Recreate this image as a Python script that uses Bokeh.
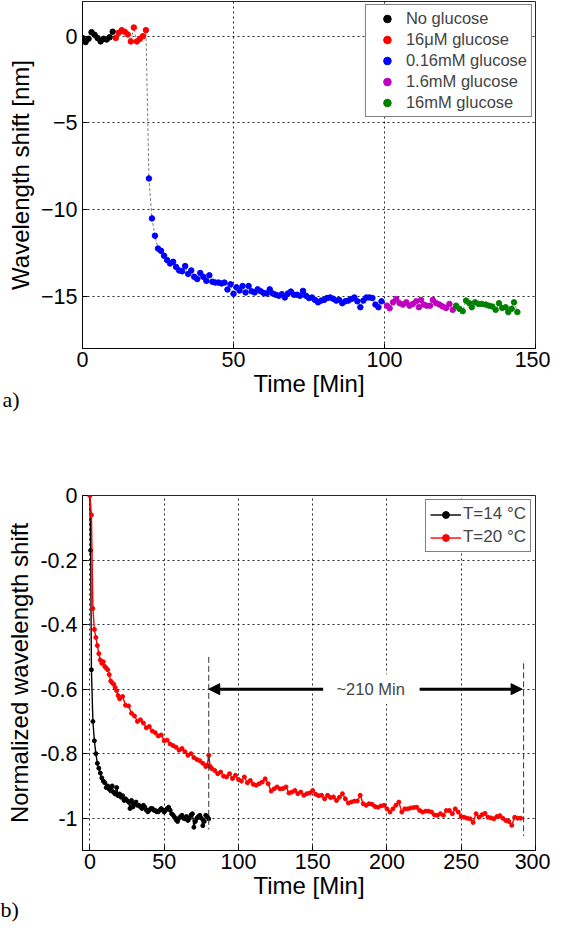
from bokeh.plotting import figure
from bokeh.layouts import column
from bokeh.models import FixedTicker, Label, Arrow, NormalHead, Title, BoxAnnotation
from bokeh.embed import file_html
from bokeh.resources import INLINE

FONT = "Liberation Sans"

# ---------------- Panel a) data ----------------
t_none = [0, 1, 2, 3, 4, 5, 6, 7, 8, 9, 10]
v_none = [-0.11, -0.34, -0.15, 0.23, 0.08, -0.11, -0.30, -0.15, -0.19, -0.06, 0.26]

t_16uM = [11, 12, 13, 14, 15, 16, 17, 18, 19, 20, 21]
v_16uM = [-0.10, 0.20, 0.35, 0.25, 0.10, -0.30, 0.50, -0.30, -0.15, 0.00, 0.35]

t_016mM = list(range(22, 100))
v_016mM = [-8.2, -10.5, -11.5, -12.24, -12.37, -12.65, -12.9, -13.1, -13.0, -13.3,
           -13.5, -13.55, -13.25, -13.7, -13.5, -13.87, -14.0, -13.65, -13.87, -14.1,
           -13.78, -14.15, -14.2, -14.2, -14.25, -14.2, -14.6, -14.3, -14.85, -14.47,
           -14.66, -14.4, -14.77, -14.4, -14.7, -14.77, -14.59, -14.7, -14.8,
           -14.83, -14.59, -14.83, -14.9, -14.96, -14.87, -15.06, -14.83, -14.72, -14.9,
           -14.9, -14.96, -14.68, -14.96, -15.09, -15.06, -15.2, -15.34, -15.24, -15.2,
           -15.09, -15.06, -15.13, -15.24, -15.2, -15.39, -15.28, -15.24, -15.15, -15.06,
           -15.28, -15.62, -15.24, -15.06, -15.06, -15.09, -15.47, -15.62, -15.28]

t_16mM_a = [100.8, 101.7, 102.8, 103.9, 105.0, 106.1, 107.2, 108.3, 109.4, 110.5, 111.4,
            112.1, 113.0, 114.0, 115.1, 116.0, 117.1, 118.2, 119.3, 120.4, 121.5, 122.6]
v_16mM_a = [-15.53, -15.68, -15.34, -15.15, -15.39, -15.47, -15.34, -15.53, -15.43, -15.28, -15.62,
            -15.2, -15.47, -15.53, -15.53, -15.2, -15.39, -15.47, -15.58, -15.66, -15.43, -15.77]

t_16mM = [123.7, 124.8, 125.9, 127.0, 128.1, 128.9, 130.0, 131.1, 132.2, 133.5,
          134.6, 135.7, 136.8, 137.9, 139.0, 140.1, 141.0, 142.1, 142.9, 144.0]
v_16mM = [-15.53, -15.71, -15.85, -15.24, -15.39, -15.62, -15.34, -15.43, -15.43, -15.47,
          -15.53, -15.58, -15.77, -15.39, -15.66, -15.62, -15.9, -15.71, -15.34, -15.9]

series_a = [
    ("No glucose", t_none, v_none, "#000000"),
    ("16\u03bcM glucose", t_16uM, v_16uM, "#FF0000"),
    ("0.16mM glucose", t_016mM, v_016mM, "#0000FF"),
    ("1.6mM glucose", t_16mM_a, v_16mM_a, "#BF00BF"),
    ("16mM glucose", t_16mM, v_16mM, "#008000"),
]
a_xticks = [0, 50, 100, 150]
a_yticks = [-15, -10, -5, 0]

# ---------------- Panel b) data ----------------
t_14 = [0, 0.5, 1, 2, 3, 4, 5, 6, 7, 8, 9, 10, 11, 12, 13, 14, 15, 16, 17, 18, 19, 20,
        21, 22, 23, 24, 25, 26, 27, 28, 29, 30, 31, 32, 33, 34, 35, 36, 37, 38, 39, 40,
        41, 42, 43, 44, 45, 46, 47, 48, 49, 50, 51, 52, 53, 54, 55, 56, 57, 58, 59, 60,
        61, 62, 63, 64, 65, 66, 67, 68, 69, 70, 71, 72, 73, 74, 75, 76, 77, 78, 79, 80]
v_14 = [0.0, -0.17, -0.54, -0.70, -0.76, -0.80, -0.83, -0.845, -0.86, -0.875, -0.885,
        -0.89, -0.905, -0.90, -0.91, -0.915, -0.90, -0.92, -0.925, -0.905, -0.93, -0.925,
        -0.935, -0.93, -0.945, -0.94, -0.945, -0.95, -0.97, -0.945, -0.965, -0.955,
        -0.95, -0.96, -0.96, -0.965, -0.97, -0.96, -0.966, -0.975, -0.98, -0.975,
        -0.97, -0.97, -0.975, -0.976, -0.98, -0.98, -0.975, -0.97, -0.975, -0.981,
        -0.975, -0.97, -0.966, -0.975, -0.986, -0.99, -0.997, -1.005, -1.01, -1.0,
        -0.995, -0.991, -1.0, -1.002, -0.995, -1.007, -1.0, -0.99, -0.986, -1.028,
        -1.01, -1.0, -0.995, -0.991, -1.0, -1.023, -1.01, -0.991, -0.995, -1.002]

t_20 = [0, 1, 2, 3, 4, 5, 6, 7, 8, 9, 10, 11, 12, 13, 14, 15, 16, 17, 18, 19, 20,
        22, 24, 26, 28, 30, 32, 34, 36, 38, 40, 42, 44, 46, 48, 50, 52, 54, 56, 58, 60,
        62, 64, 66, 68, 70, 72, 74, 76, 78, 79, 80, 81, 82, 84, 86, 88, 90, 92, 94, 96,
        98, 100, 102, 104, 106, 108, 110, 112, 114, 116, 118, 120, 122, 124, 126, 128,
        130, 132, 134, 136, 138, 140, 142, 144, 146, 148, 150, 152, 154, 156, 158, 160,
        162, 164, 166, 168, 170, 172, 174, 176, 178, 180, 182, 184, 186, 188, 190, 192,
        194, 196, 198, 200, 202, 204, 206, 208, 210, 212, 214, 216, 218, 220, 222, 224,
        226, 228, 230, 232, 234, 236, 238, 240, 242, 244, 246, 248, 250, 252, 254, 256,
        258, 260, 262, 264, 266, 268, 270, 272, 274, 276, 278, 280, 282, 284, 286, 288, 290]
v_20 = [0.0, -0.06, -0.35, -0.415, -0.44, -0.465, -0.49, -0.51, -0.52, -0.515, -0.53,
        -0.535, -0.54, -0.555, -0.575, -0.58, -0.585, -0.595, -0.605, -0.62, -0.63,
        -0.623, -0.65, -0.652, -0.675, -0.683, -0.70, -0.695, -0.705, -0.72, -0.716,
        -0.73, -0.735, -0.745, -0.742, -0.76, -0.758, -0.77, -0.775, -0.78, -0.789,
        -0.784, -0.794, -0.805, -0.80, -0.812, -0.818, -0.822, -0.83, -0.84, -0.835,
        -0.805, -0.84, -0.846, -0.852, -0.862, -0.857, -0.87, -0.872, -0.862, -0.877,
        -0.867, -0.88, -0.885, -0.872, -0.89, -0.883, -0.895, -0.898, -0.893, -0.888,
        -0.878, -0.893, -0.916, -0.909, -0.903, -0.909, -0.908, -0.903, -0.922, -0.919,
        -0.914, -0.924, -0.919, -0.929, -0.924, -0.922, -0.914, -0.926, -0.93, -0.929,
        -0.94, -0.929, -0.936, -0.934, -0.945, -0.935, -0.924, -0.94, -0.953, -0.95,
        -0.947, -0.947, -0.929, -0.955, -0.96, -0.955, -0.957, -0.964, -0.966, -0.962,
        -0.96, -0.971, -0.981, -0.971, -0.96, -0.95, -0.981, -0.971, -0.971, -0.968,
        -0.967, -0.966, -0.976, -0.981, -0.978, -0.978, -0.981, -0.99, -0.991, -0.986,
        -0.991, -0.976, -0.976, -0.986, -0.971, -0.981, -0.995, -0.997, -1.0, -1.002,
        -1.013, -0.986, -0.997, -0.989, -0.985, -0.997, -0.999, -1.002, -0.995, -0.992,
        -1.0, -1.007, -1.01, -1.022, -0.997, -1.0, -1.0]

b_xticks = [0, 50, 100, 150, 200, 250, 300]
b_yticks = [-1, -0.8, -0.6, -0.4, -0.2, 0]
b_ylabels = {-1: "-1", -0.8: "-0.8", -0.6: "-0.6", -0.4: "-0.4", -0.2: "-0.2", 0: "0"}

# annotation: interval marked on panel b
span_start, span_end = 80, 291
span_y = -0.6
span_text = "~210 Min"
vline_start = (80, -0.5, -1.035)
vline_end = (292, -0.52, -1.055)
arrow_left_from = 157
arrow_right_from = 222
span_text_x = 189
span_box_half = 0.046


def style(p, xticks, yticks):
    p.outline_line_color = "#000000"
    p.outline_line_width = 1
    p.outline_line_alpha = 0.85
    p.background_fill_color = "white"
    for ax in (p.xaxis, p.yaxis):
        ax.axis_line_color = "#000000"
        ax.axis_line_alpha = 0.85
        ax.major_tick_in = 5
        ax.major_tick_out = 0
        ax.minor_tick_in = 0
        ax.minor_tick_out = 0
        ax.major_label_text_font = FONT
        ax.major_label_text_font_size = "21.5px"
        ax.major_label_text_color = "black"
        ax.axis_label_text_font = FONT
        ax.axis_label_text_font_size = "24px"
        ax.axis_label_text_font_style = "normal"
        ax.axis_label_text_color = "black"
    p.xaxis.major_label_standoff = 3
    p.xaxis.axis_label_standoff = 0
    p.yaxis.major_label_standoff = 5
    p.yaxis.axis_label_standoff = 4
    p.xaxis.ticker = FixedTicker(ticks=xticks)
    p.yaxis.ticker = FixedTicker(ticks=yticks)
    for g in (p.xgrid, p.ygrid):
        g.grid_line_color = "#111111"
        g.grid_line_dash = "2 3"
        g.grid_line_width = 1
        g.grid_line_alpha = 0.9
    p.xgrid.ticker = FixedTicker(ticks=xticks)
    p.ygrid.ticker = FixedTicker(ticks=yticks)


def panel_tag(p, text, offset, standoff):
    t = Title(text=text, align="left", vertical_align="top", offset=offset,
              text_font="Liberation Serif", text_font_size="22px",
              text_font_style="normal", text_color="black")
    try:
        t.standoff = standoff
    except Exception:
        t.standoff = 0
    p.add_layout(t, "below")


# ---------------- Panel a) ----------------
p1 = figure(width=550, height=436, x_range=(0, 150), y_range=(-18, 2),
            output_backend="svg", toolbar_location=None,
            min_border_left=80, min_border_right=15, min_border_top=1, min_border_bottom=88,
            x_axis_label="Time [Min]", y_axis_label="Wavelength shift [nm]")
style(p1, a_xticks, a_yticks)

all_t = []
all_v = []
for _, ts, vs, _ in series_a:
    all_t += ts
    all_v += vs
p1.line(all_t, all_v, line_color="#808080", line_dash="3 2", line_width=1)
for name, ts, vs, col in series_a:
    p1.scatter(ts, vs, size=5.5, fill_color=col, line_color=col, legend_label=name)

lg = p1.legend[0]
lg.location = "top_right"
lg.margin = 3
lg.padding = 4
lg.spacing = 2
lg.glyph_width = 34
lg.glyph_height = 19
lg.label_height = 19
lg.label_standoff = 2
lg.label_text_font = FONT
lg.label_text_font_size = "16.5px"
lg.border_line_color = "black"
lg.border_line_width = 1
lg.background_fill_alpha = 1

panel_tag(p1, "a)", -80, -26)

# ---------------- Panel b) ----------------
p2 = figure(width=550, height=488, x_range=(-5, 300), y_range=(-1.1, 0),
            output_backend="svg", toolbar_location=None,
            min_border_left=82, min_border_right=13, min_border_top=59, min_border_bottom=74,
            x_axis_label="Time [Min]", y_axis_label="Normalized wavelength shift")
style(p2, b_xticks, b_yticks)
p2.yaxis.major_label_overrides = b_ylabels

p2.line(t_14, v_14, line_color="black", line_width=1.4, legend_label="T=14 \u00b0C")
p2.scatter(t_14, v_14, size=4, fill_color="black", line_color="black", legend_label="T=14 \u00b0C")
p2.line(t_20, v_20, line_color="red", line_width=1.4, legend_label="T=20 \u00b0C")
p2.scatter(t_20, v_20, size=4, fill_color="red", line_color="red", legend_label="T=20 \u00b0C")

lg2 = p2.legend[0]
lg2.location = "top_right"
lg2.margin = 4
lg2.padding = 4
lg2.spacing = 3
lg2.glyph_width = 31
lg2.glyph_height = 17
lg2.label_height = 17
lg2.label_standoff = 2
lg2.label_text_font = FONT
lg2.label_text_font_size = "17px"
lg2.border_line_color = "black"
lg2.border_line_width = 1
lg2.background_fill_alpha = 1

for (vx, y0, y1) in (vline_start, vline_end):
    p2.segment(x0=[vx], y0=[y0], x1=[vx], y1=[y1], line_color="#333333",
               line_dash="6 3", line_width=1)

p2.add_layout(BoxAnnotation(left=arrow_left_from, right=arrow_right_from,
                            bottom=span_y - span_box_half, top=span_y + span_box_half,
                            fill_color="white", fill_alpha=1, line_alpha=0))
p2.add_layout(Arrow(end=NormalHead(size=11, fill_color="black", line_color="black"),
                    x_start=arrow_left_from, y_start=span_y, x_end=span_start, y_end=span_y,
                    line_color="black", line_width=3))
p2.add_layout(Arrow(end=NormalHead(size=11, fill_color="black", line_color="black"),
                    x_start=arrow_right_from, y_start=span_y, x_end=span_end, y_end=span_y,
                    line_color="black", line_width=3))
p2.add_layout(Label(x=span_text_x, y=span_y, text=span_text, text_font=FONT,
                    text_font_size="16.5px", text_align="center", text_baseline="middle"))

panel_tag(p2, "b)", -82, -9)

layout = column(p1, p2, spacing=0)
open("out.html", "w").write(file_html(layout, INLINE))
